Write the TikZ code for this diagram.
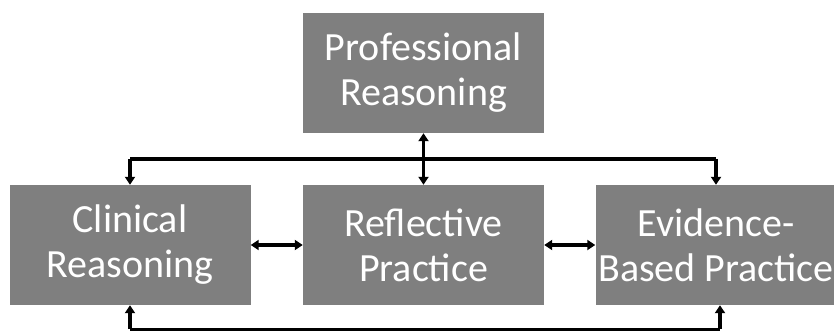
\documentclass[tikz,border=0pt]{standalone}
\usepackage{fontspec}
\setmainfont{Carlito}
\usetikzlibrary{arrows.meta,calc}
\definecolor{boxgray}{HTML}{7F7F7F}
\begin{document}
\begin{tikzpicture}[x=1pt, y=-1pt,
  every node/.style={font=\fontsize{40}{45}\selectfont},
  area/.style={fill=boxgray, text=white, align=center, inner sep=1pt,
    minimum width=241pt, minimum height=120pt},
  link/.style={line width=3.4pt, {Triangle[length=8pt,width=10pt]}-{Triangle[length=8pt,width=10pt]}},
  feed/.style={line width=3.4pt, -{Triangle[length=8pt,width=10pt]}}]
  \useasboundingbox[fill=white] (0,0) rectangle (834,331);

  \node[area] (prof) at (423.5,73) {Professional\\Reasoning};
  \node[area] (clin) at (130,245) {Clinical\\Reasoning};
  \node[area] (refl) at (423.5,245) {Reflective\\Practice};
  \node[area] (evid) at (716,245) {Evidence-\\Based Practice};

  \coordinate (top) at ($(prof.south)!0.5!(refl.north)$);
  \coordinate (low) at ($(clin.south)+(0,24)$);

  \draw[link] (prof) -- (refl);
  \draw[link] (clin) -- (refl);
  \draw[link] (refl) -- (evid);

  \draw[line width=3.4pt] (clin.north |- top) -- (evid.north |- top);
  \draw[feed] (clin.north |- top) -- (clin.north);
  \draw[feed] (evid.north |- top) -- (evid.north);

  \draw[line width=3.4pt] (clin.south |- low) -- ($(evid.south |- low)+(4,0)$);
  \draw[feed] (clin.south |- low) -- (clin.south);
  \draw[feed] ($(evid.south |- low)+(4,0)$) -- ($(evid.south)+(4,0)$);
\end{tikzpicture}
\end{document}
